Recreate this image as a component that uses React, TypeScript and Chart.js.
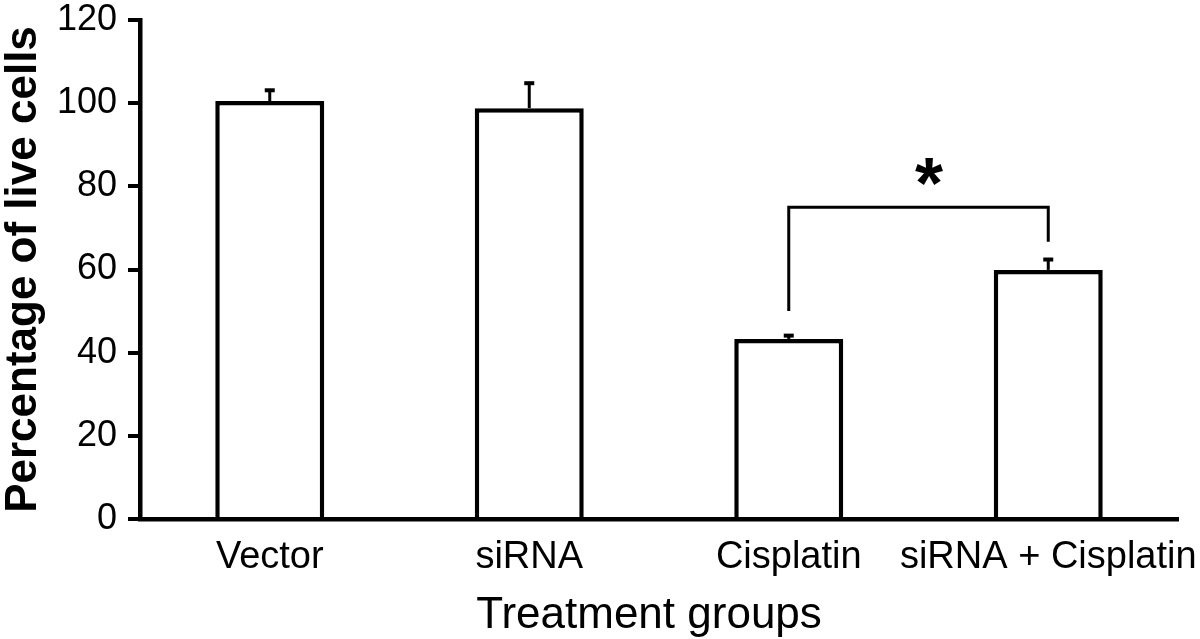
import React, { useEffect, useRef } from "react";
import { Chart, registerables } from "chart.js";

Chart.register(...registerables);

// ---- data ----
const categories = ["Vector", "siRNA", "Cisplatin", "siRNA + Cisplatin"];
const liveCells = [100.5, 98.8, 43.3, 59.9];
const errorValues = [2.6, 6.0, 0.8, 2.5];
const yMin = 0;
const yMax = 120;
const yStep = 20;
const yTitle = "Percentage of live cells";
const xTitle = "Treatment groups";
// significance bracket (category indices and y values in data units)
const bracketGroups = [2, 3];
const bracketTop = 75;
const bracketEnds = [50, 66.7];
const starLabel = "*";
const starPosition = [2.54, 83.5];

const FONT = "'Liberation Sans', Arial, Helvetica, sans-serif";

const annotationPlugin = {
  id: "annotations",
  afterDatasetsDraw(chart: any) {
    const { ctx } = chart;
    const xs = chart.scales.x;
    const ys = chart.scales.y;
    ctx.save();
    ctx.strokeStyle = "#000";
    ctx.lineCap = "butt";
    // error bars (upper only)
    liveCells.forEach((v, i) => {
      const x = xs.getPixelForValue(i);
      const yBar = ys.getPixelForValue(v);
      const yTop = ys.getPixelForValue(v + errorValues[i]);
      ctx.lineWidth = 3;
      ctx.beginPath();
      ctx.moveTo(x, yBar);
      ctx.lineTo(x, yTop);
      ctx.stroke();
      ctx.lineWidth = 4;
      ctx.beginPath();
      ctx.moveTo(x - 5, yTop);
      ctx.lineTo(x + 5, yTop);
      ctx.stroke();
    });
    // bracket
    const x1 = xs.getPixelForValue(bracketGroups[0]);
    const x2 = xs.getPixelForValue(bracketGroups[1]);
    const yT = ys.getPixelForValue(bracketTop);
    ctx.lineWidth = 3;
    ctx.lineJoin = "miter";
    ctx.beginPath();
    ctx.moveTo(x1, ys.getPixelForValue(bracketEnds[0]));
    ctx.lineTo(x1, yT);
    ctx.lineTo(x2, yT);
    ctx.lineTo(x2, ys.getPixelForValue(bracketEnds[1]));
    ctx.stroke();
    // star
    ctx.fillStyle = "#000";
    ctx.font = `bold 72px ${FONT}`;
    ctx.textAlign = "left";
    ctx.textBaseline = "alphabetic";
    const m = ctx.measureText(starLabel);
    const cx = xs.getPixelForValue(starPosition[0]);
    const cy = ys.getPixelForValue(starPosition[1]);
    const w = m.actualBoundingBoxLeft + m.actualBoundingBoxRight;
    const dx = cx - w / 2 + m.actualBoundingBoxLeft;
    const dy = cy + (m.actualBoundingBoxAscent - m.actualBoundingBoxDescent) / 2;
    ctx.fillText(starLabel, dx, dy);
    // x-axis title (slightly left of the plot centre, as in the original)
    ctx.font = `44px ${FONT}`;
    ctx.textAlign = "center";
    ctx.textBaseline = "middle";
    ctx.fillText(xTitle, (xs.left + xs.right) / 2 - 10, xs.bottom - 23);
    ctx.restore();
  },
};

export default function App() {
  const canvasRef = useRef<HTMLCanvasElement | null>(null);

  useEffect(() => {
    if (!canvasRef.current) return;
    const chart = new Chart(canvasRef.current, {
      type: "bar",
      data: {
        labels: categories,
        datasets: [
          {
            data: liveCells,
            backgroundColor: "#ffffff",
            borderColor: "#000000",
            borderWidth: 4.5,
            borderSkipped: "bottom",
            barPercentage: 0.42,
            categoryPercentage: 1,
          },
        ],
      },
      options: {
        responsive: false,
        animation: false,
        devicePixelRatio: 1,
        layout: { padding: { top: 20, right: 22, left: 0, bottom: 0 } },
        plugins: {
          legend: { display: false },
          tooltip: { enabled: false },
        },
        scales: {
          x: {
            type: "category",
            offset: true,
            grid: { display: false, drawTicks: false, tickLength: 0 },
            border: { display: true, color: "#000", width: 4.5 },
            ticks: {
              color: "#000",
              padding: 16,
              maxRotation: 0,
              autoSkip: false,
              font: { family: FONT, size: 38 },
            },
            title: { display: false, text: xTitle },
            afterFit: (scale: any) => {
              scale.height = 120;
              scale.paddingLeft = 0;
              scale.paddingRight = 0;
            },
          },
          y: {
            min: yMin,
            max: yMax,
            grid: {
              display: true,
              drawOnChartArea: false,
              drawTicks: true,
              tickLength: 12,
              lineWidth: 4,
              color: "#000",
            },
            border: { display: true, color: "#000", width: 4.5 },
            ticks: {
              stepSize: yStep,
              color: "#000",
              padding: 11,
              font: { family: FONT, size: 36 },
            },
            title: {
              display: true,
              text: yTitle,
              color: "#000",
              padding: 0,
              font: { family: FONT, size: 44, weight: "bold", lineHeight: 1.1 },
            },
            afterFit: (scale: any) => {
              scale.width = 140;
              scale.paddingTop = 0;
              scale.paddingBottom = 0;
            },
          },
        },
      },
      plugins: [annotationPlugin],
    } as any);
    return () => chart.destroy();
  }, []);

  return (
    <canvas
      ref={canvasRef}
      width={1200}
      height={639}
      style={{ position: "absolute", left: 0, top: 0, width: 1200, height: 639, background: "#fff" }}
    />
  );
}
